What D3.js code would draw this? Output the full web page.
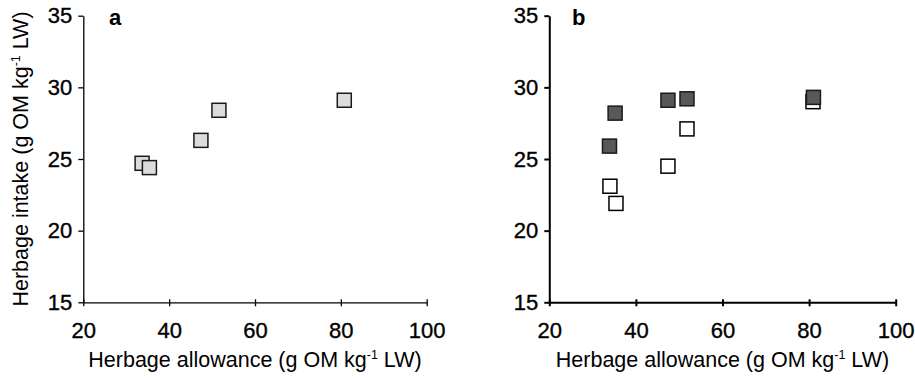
<!DOCTYPE html>
<html>
<head>
<meta charset="utf-8">
<script src="https://cdn.jsdelivr.net/npm/d3@7"></script>
<style>
  body { margin: 0; background: #fff; }
  svg { display: block; font-family: "Liberation Sans", Arial, sans-serif; }
</style>
</head>
<body>
<div id="chart"></div>
<script>
// panel a
const allowanceA = [33.7, 35.4, 47.4, 51.6, 80.8];
const intakeA = [24.7, 24.4, 26.3, 28.4, 29.1];
// panel b (open = white squares, filled = dark squares)
const allowanceBOpen = [34.0, 35.4, 47.4, 51.8, 80.9];
const intakeBOpen = [23.1, 21.9, 24.5, 27.1, 29.0];
const allowanceBFilled = [33.9, 35.2, 47.4, 51.8, 81.0];
const intakeBFilled = [25.9, 28.2, 29.1, 29.2, 29.3];

const xTicks = [20, 40, 60, 80, 100];
const yTicks = [15, 20, 25, 30, 35];

const W = 915, H = 378;
const svg = d3.select("#chart").append("svg")
  .attr("width", W).attr("height", H);

function panel(cfg) {
  const x = d3.scaleLinear().domain([20, 100]).range([cfg.left, cfg.right]);
  const y = d3.scaleLinear().domain([15, 35]).range([302.3, 15.7]);
  const g = svg.append("g");

  // x axis, ticks crossing the line
  const gx = g.append("g")
    .attr("transform", `translate(0,${y(15)})`)
    .call(d3.axisBottom(x).tickValues(xTicks).tickSizeOuter(0).tickPadding(14));
  gx.selectAll(".tick line").attr("y1", -3).attr("y2", 4);

  const gy = g.append("g")
    .attr("transform", `translate(${x(20)},0)`)
    .call(d3.axisLeft(y).tickValues(yTicks).tickSize(5).tickSizeOuter(0).tickPadding(6));

  g.selectAll(".domain, .tick line")
    .attr("stroke", "#000").attr("stroke-width", cfg.lw);
  g.selectAll(".tick text")
    .attr("font-size", 22).attr("fill", "#000")
    .attr("stroke", "#000").attr("stroke-width", 0.35);

  // x title
  const xt = g.append("text")
    .attr("x", (cfg.left + cfg.right) / 2).attr("y", 367)
    .attr("text-anchor", "middle").attr("font-size", 21.5);
  xt.append("tspan").text("Herbage allowance (g OM kg");
  xt.append("tspan").attr("font-size", 12.5).attr("dy", -8).text("-1");
  xt.append("tspan").attr("dy", 8).text(" LW)");

  if (cfg.ytitle) {
    const yt = g.append("text")
      .attr("transform", `translate(28,${(y(15) + y(35)) / 2}) rotate(-90)`)
      .attr("text-anchor", "middle").attr("font-size", 21.5);
    yt.append("tspan").text("Herbage intake (g OM kg");
    yt.append("tspan").attr("font-size", 12.5).attr("dy", -8).text("-1");
    yt.append("tspan").attr("dy", 8).text(" LW)");
  }

  g.append("text")
    .attr("x", cfg.labelX).attr("y", 25)
    .attr("font-size", 22).attr("font-weight", "bold")
    .text(cfg.label);

  const s = 14;
  cfg.series.forEach(sr => {
    g.append("g").selectAll("rect")
      .data(d3.zip(sr.xs, sr.ys))
      .join("rect")
      .attr("x", d => x(d[0]) - s / 2)
      .attr("y", d => y(d[1]) - s / 2)
      .attr("width", s).attr("height", s)
      .attr("fill", sr.fill)
      .attr("stroke", sr.stroke)
      .attr("stroke-width", 1.5);
  });
}

panel({
  left: 83.3, right: 426.7, lw: 1.3, label: "a", labelX: 109, ytitle: true,
  series: [{ xs: allowanceA, ys: intakeA, fill: "#dcdcdc", stroke: "#1a1a1a" }]
});

panel({
  left: 549.3, right: 895.7, lw: 2, label: "b", labelX: 572, ytitle: false,
  series: [
    { xs: allowanceBOpen, ys: intakeBOpen, fill: "#fff", stroke: "#000" },
    { xs: allowanceBFilled, ys: intakeBFilled, fill: "#585858", stroke: "#1a1a1a" }
  ]
});
</script>
</body>
</html>
